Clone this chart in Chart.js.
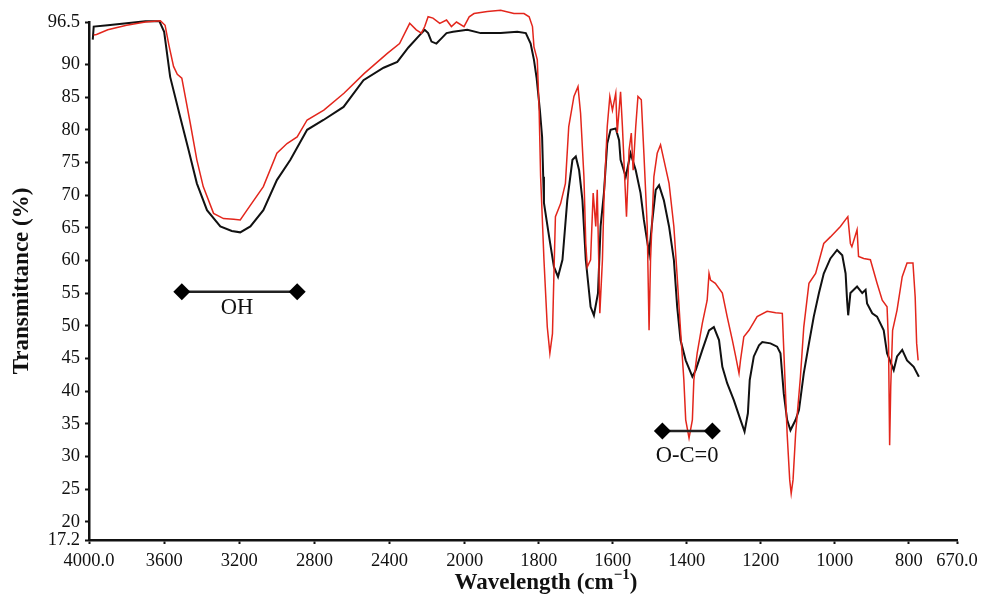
<!DOCTYPE html>
<html>
<head>
<meta charset="utf-8">
<script src="https://cdn.jsdelivr.net/npm/chart.js@4.4.0/dist/chart.umd.min.js"></script>
<style>
  html, body { margin: 0; padding: 0; background: #fff; }
  #wrap { width: 988px; height: 597px; }
</style>
</head>
<body>
<div id="wrap"><canvas id="chart" width="988" height="597"></canvas></div>
<script>
// black spectrum: wavenumber (cm-1) and transmittance (%)
const black_wn = [3980, 3975, 3900, 3800, 3700, 3625, 3600, 3568, 3515, 3470, 3426, 3372, 3301, 3240, 3195, 3141, 3072, 3000, 2928, 2839,
  2752, 2645, 2539, 2432, 2359, 2300, 2240, 2213, 2195, 2177, 2151, 2124, 2097, 2062, 1993, 1957, 1903, 1858, 1835, 1822,
  1813, 1806, 1797, 1791, 1788, 1786, 1772, 1759, 1748, 1736, 1723, 1709, 1700, 1691, 1682, 1673, 1660, 1651, 1640, 1633,
  1624, 1615, 1606, 1592, 1583, 1579, 1565, 1552, 1538, 1525, 1516, 1502, 1493, 1484, 1475, 1462, 1448, 1435, 1426, 1417,
  1403, 1385, 1376, 1358, 1340, 1327, 1313, 1304, 1291, 1273, 1255, 1244, 1235, 1230, 1219, 1205, 1196, 1174, 1156, 1147,
  1138, 1129, 1120, 1106, 1097, 1084, 1070, 1057, 1043, 1030, 1012, 994, 980, 971, 967, 964, 958, 940, 926, 917,
  913, 899, 886, 868, 859, 841, 832, 818, 805, 787, 773];
const black_t = [93.8, 95.8, 96.0, 96.3, 96.6, 96.6, 95.0, 88.1, 82.0, 76.9, 71.8, 67.7, 65.2, 64.5, 64.3, 65.2, 67.7, 72.3, 75.4, 80.0,
  81.5, 83.5, 87.6, 89.5, 90.4, 92.6, 94.5, 95.3, 94.8, 93.5, 93.2, 94.0, 94.8, 95.0, 95.3, 94.8, 94.8, 95.0, 94.8, 93.2,
  90.7, 88.0, 83.0, 78.9, 72.8, 68.8, 63.6, 59.0, 57.5, 60.1, 69.2, 75.4, 75.9, 73.8, 69.2, 60.1, 52.9, 51.6, 55.0, 65.2,
  70.3, 77.9, 80.0, 80.2, 78.4, 75.4, 72.8, 76.4, 73.8, 70.3, 66.2, 61.1, 66.2, 70.8, 71.5, 69.2, 65.2, 60.1, 52.9, 47.8,
  44.7, 42.2, 43.2, 46.3, 49.3, 49.8, 47.8, 43.7, 41.2, 38.6, 35.6, 33.8, 36.6, 41.7, 45.3, 47.0, 47.5, 47.3, 46.8, 45.8,
  39.6, 35.6, 34.0, 35.6, 37.1, 42.7, 47.3, 51.4, 55.0, 58.0, 60.3, 61.6, 60.8, 58.0, 53.9, 51.6, 55.0, 56.0, 55.0, 55.5,
  53.4, 51.9, 51.4, 49.3, 45.8, 43.2, 45.3, 46.3, 44.7, 43.7, 42.2];

// red spectrum
const red_wn = [3975, 3960, 3900, 3800, 3700, 3620, 3595, 3575, 3550, 3530, 3506, 3461, 3426, 3392, 3337, 3284, 3230, 3195, 3159, 3072,
  3000, 2946, 2892, 2839, 2750, 2643, 2536, 2412, 2347, 2293, 2258, 2231, 2213, 2195, 2169, 2133, 2097, 2071, 2044, 2004,
  1988, 1975, 1939, 1903, 1867, 1840, 1826, 1817, 1813, 1804, 1799, 1795, 1786, 1777, 1770, 1763, 1759, 1755, 1741, 1728,
  1719, 1705, 1694, 1687, 1678, 1673, 1669, 1660, 1653, 1646, 1642, 1635, 1628, 1624, 1615, 1608, 1601, 1592, 1588, 1579,
  1574, 1568, 1563, 1556, 1550, 1545, 1538, 1532, 1523, 1516, 1507, 1502, 1498, 1489, 1480, 1471, 1462, 1448, 1435, 1426,
  1417, 1408, 1403, 1394, 1385, 1381, 1372, 1358, 1345, 1340, 1336, 1323, 1304, 1291, 1277, 1268, 1259, 1255, 1246, 1232,
  1210, 1183, 1160, 1142, 1138, 1129, 1122, 1118, 1113, 1106, 1093, 1084, 1070, 1052, 1030, 1012, 985, 965, 958, 954,
  940, 936, 922, 904, 886, 872, 859, 855, 852, 849, 844, 832, 818, 805, 789, 783, 779, 775];
const red_t = [94.5, 94.6, 95.3, 96.0, 96.5, 96.7, 96.0, 93.0, 89.7, 88.5, 87.9, 81.0, 75.4, 71.3, 67.2, 66.4, 66.3, 66.2, 67.7, 71.3,
  76.4, 77.9, 78.9, 81.5, 83.0, 85.6, 88.6, 91.7, 93.2, 96.3, 95.3, 94.8, 95.8, 97.3, 97.1, 96.3, 96.8, 95.8, 96.5, 95.8,
  97.3, 97.8, 98.1, 98.3, 97.8, 97.8, 97.3, 95.8, 92.7, 90.7, 83.0, 72.8, 60.1, 49.8, 45.8, 48.8, 58.0, 66.7, 68.7, 71.8,
  80.5, 85.1, 86.6, 82.5, 72.8, 62.6, 59.0, 60.1, 70.3, 65.2, 70.8, 51.9, 60.1, 69.2, 80.5, 85.1, 83.0, 85.6, 79.5, 85.8,
  80.5, 72.8, 66.7, 76.9, 79.5, 73.8, 80.5, 85.1, 84.6, 76.4, 65.2, 49.3, 60.1, 72.8, 76.4, 77.7, 75.4, 71.8, 65.2, 57.5,
  49.3, 41.7, 35.6, 32.8, 35.6, 41.7, 45.8, 50.4, 53.9, 58.0, 57.0, 56.5, 55.0, 51.4, 47.8, 45.3, 42.7, 44.7, 48.3, 49.3,
  51.4, 52.2, 52.0, 51.9, 46.3, 33.5, 26.4, 24.3, 26.4, 33.5, 42.2, 49.8, 56.5, 58.0, 62.6, 63.6, 65.2, 66.7, 62.6, 62.1,
  64.7, 60.6, 60.3, 60.1, 56.5, 53.9, 52.9, 47.3, 31.7, 40.7, 49.3, 52.4, 57.5, 59.6, 59.6, 54.4, 47.3, 44.7];

const x_ticks = [4000, 3600, 3200, 2800, 2400, 2000, 1800, 1600, 1400, 1200, 1000, 800, 670];
const x_tick_labels = ["4000.0", "3600", "3200", "2800", "2400", "2000", "1800", "1600", "1400", "1200", "1000", "800", "670.0"];
const y_ticks = [17.2, 20, 25, 30, 35, 40, 45, 50, 55, 60, 65, 70, 75, 80, 85, 90, 96.5];

// band markers
const oh_band = [3506, 2892];
const oh_level = 55.2;
const oc_band = [1466, 1331];
const oc_level = 33.9;

// the spectrometer plot changes scale at 2000 cm-1, the right part is stretched
function axisPos(wn) {
  return wn >= 2000 ? 4000 - wn : 2000 + 1.97 * (2000 - wn);
}

function toPoints(wn, vals) {
  return wn.map((w, i) => ({ x: axisPos(w), y: vals[i] }));
}

const serif = "'Liberation Serif', 'Times New Roman', serif";

const labelPlugin = {
  id: "bandLabels",
  afterDatasetsDraw(chart) {
    const ctx = chart.ctx;
    const xs = chart.scales.x;
    const ys = chart.scales.y;
    const area = chart.chartArea;
    ctx.save();
    ctx.fillStyle = "#111";
    ctx.font = "22.5px " + serif;
    ctx.textAlign = "center";
    ctx.textBaseline = "middle";
    ctx.fillText("OH", xs.getPixelForValue(axisPos(3212)), ys.getPixelForValue(52.7));
    ctx.fillText("O-C=0", xs.getPixelForValue(axisPos(1399)), ys.getPixelForValue(30.0));

    // x axis title with superscript
    const main = "Wavelength (cm";
    const sup = "\u22121";
    const close = ")";
    ctx.textAlign = "left";
    ctx.font = "bold 23px " + serif;
    const w1 = ctx.measureText(main).width;
    const w3 = ctx.measureText(close).width;
    ctx.font = "bold 15px " + serif;
    const w2 = ctx.measureText(sup).width;
    let x = (area.left + area.right) / 2 + 23 - (w1 + w2 + w3) / 2;
    const y = area.bottom + 43;
    ctx.font = "bold 23px " + serif;
    ctx.fillText(main, x, y);
    x += w1;
    ctx.font = "bold 15px " + serif;
    ctx.fillText(sup, x, y - 8);
    x += w2;
    ctx.font = "bold 23px " + serif;
    ctx.fillText(close, x, y);
    ctx.restore();
  },
};

function markerSet(band, level) {
  return {
    data: band.map((w) => ({ x: axisPos(w), y: level })),
    borderColor: "#222",
    borderWidth: 2.5,
    pointStyle: "rectRot",
    pointRadius: 8.5,
    pointBackgroundColor: "#000",
    pointBorderColor: "#000",
    pointBorderWidth: 0,
  };
}

const config = {
  type: "line",
  data: {
    datasets: [
      markerSet(oh_band, oh_level),
      markerSet(oc_band, oc_level),
      {
        label: "red",
        data: toPoints(red_wn, red_t),
        borderColor: "#e3261c",
        borderWidth: 1.5,
        pointRadius: 0,
        clip: false,
      },
      {
        label: "black",
        data: toPoints(black_wn, black_t),
        borderColor: "#111",
        borderWidth: 2,
        pointRadius: 0,
        clip: false,
      },
    ],
  },
  options: {
    responsive: false,
    animation: false,
    devicePixelRatio: 1,
    layout: { padding: { left: 0, right: 31, top: 22, bottom: 0 } },
    plugins: { legend: { display: false }, tooltip: { enabled: false } },
    elements: { line: { tension: 0 } },
    scales: {
      x: {
        type: "linear",
        min: axisPos(4000),
        max: axisPos(670),
        afterBuildTicks: (s) => {
          s.ticks = x_ticks.map((w) => ({ value: axisPos(w) }));
        },
        afterFit: (s) => {
          s.height = 57;
        },
        ticks: {
          autoSkip: false,
          maxRotation: 0,
          padding: 6,
          color: "#111",
          font: { family: serif, size: 18.5 },
          callback: (v, i) => x_tick_labels[i],
        },
        grid: { drawOnChartArea: false, tickLength: 4, tickColor: "#111", tickWidth: 2 },
        border: { color: "#111", width: 2.5 },
      },
      y: {
        min: 17.2,
        max: 96.5,
        afterBuildTicks: (s) => {
          s.ticks = y_ticks.map((v) => ({ value: v }));
        },
        afterFit: (s) => {
          s.width = 89;
        },
        ticks: {
          padding: 5,
          color: "#111",
          font: { family: serif, size: 18.5 },
          callback: (v) => String(v),
        },
        grid: { drawOnChartArea: false, tickLength: 4, tickColor: "#111", tickWidth: 2 },
        border: { color: "#111", width: 2.5 },
        title: {
          display: true,
          text: "Transmittance (%)",
          color: "#111",
          font: { family: serif, size: 23, weight: "bold" },
          padding: { top: 8, bottom: 0 },
        },
      },
    },
  },
  plugins: [labelPlugin],
};

new Chart(document.getElementById("chart"), config);
</script>
</body>
</html>
